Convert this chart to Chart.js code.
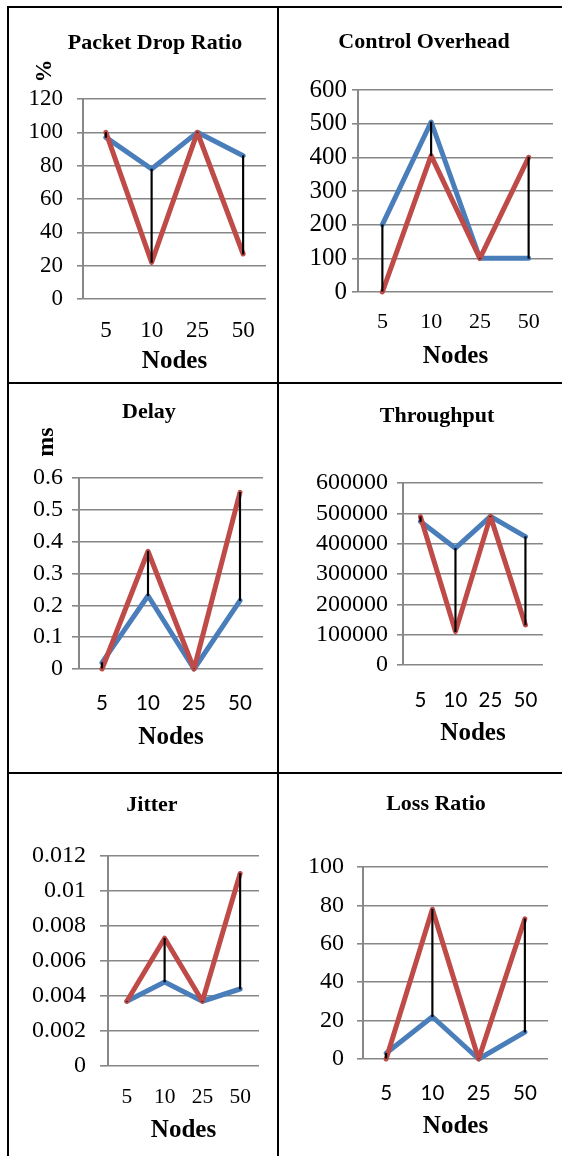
<!DOCTYPE html>
<html>
<head>
<meta charset="utf-8">
<script src="https://cdn.jsdelivr.net/npm/chart.js@4.4.0/dist/chart.umd.min.js"></script>
<style>
  html, body { margin: 0; padding: 0; background: #fff; }
  body { width: 562px; height: 1156px; position: relative; overflow: hidden; font-family: 'Liberation Serif', 'Times New Roman', serif; }
  .rule { position: absolute; background: #000; }
  canvas { position: absolute; }
  .ttl { position: absolute; width: 300px; text-align: center; font-weight: bold; font-size: 22px; line-height: 22px; white-space: nowrap; color: #000; }
  .unit { position: absolute; width: 40px; height: 40px; line-height: 40px; text-align: center; font-weight: bold; transform: rotate(-90deg); color: #000; }
</style>
</head>
<body>
<!-- table rules -->
<div class="rule" style="left:7px;top:6px;width:555px;height:2px"></div>
<div class="rule" style="left:7px;top:6px;width:2px;height:1150px"></div>
<div class="rule" style="left:277px;top:6px;width:2px;height:1150px"></div>
<div class="rule" style="left:7px;top:382px;width:555px;height:2px"></div>
<div class="rule" style="left:7px;top:772px;width:555px;height:2px"></div>

<canvas id="pdr" width="268" height="374" style="left:9px;top:8px"></canvas>
<canvas id="overhead" width="283" height="374" style="left:279px;top:8px"></canvas>
<canvas id="delay" width="268" height="388" style="left:9px;top:384px"></canvas>
<canvas id="throughput" width="283" height="388" style="left:279px;top:384px"></canvas>
<canvas id="jitter" width="268" height="382" style="left:9px;top:774px"></canvas>
<canvas id="loss" width="283" height="382" style="left:279px;top:774px"></canvas>

<div class="ttl" style="left:5px;top:31px">Packet Drop Ratio</div>
<div class="ttl" style="left:274px;top:30px">Control Overhead</div>
<div class="ttl" style="left:-1px;top:400px">Delay</div>
<div class="ttl" style="left:287px;top:404px">Throughput</div>
<div class="ttl" style="left:2px;top:793px">Jitter</div>
<div class="ttl" style="left:286px;top:792px">Loss Ratio</div>

<div class="unit" style="left:24px;top:51px;font-size:23px">%</div>
<div class="unit" style="left:25px;top:422px;font-size:24px">ms</div>

<script>
// x categories shared by all six charts
const nodes = ['5', '10', '25', '50'];

// Packet Drop Ratio (%)
const pdrBlue = [97, 78, 100, 86];
const pdrRed = [100, 22, 100, 27];
const pdrTicks = [0, 20, 40, 60, 80, 100, 120];

// Control Overhead
const ohBlue = [200, 505, 100, 100];
const ohRed = [0, 405, 100, 400];
const ohTicks = [0, 100, 200, 300, 400, 500, 600];

// Delay (ms)
const delayBlue = [0.02, 0.23, 0.0, 0.215];
const delayRed = [0.0, 0.37, 0.0, 0.555];
const delayTicks = [0, 0.1, 0.2, 0.3, 0.4, 0.5, 0.6];

// Throughput
const tputBlue = [473000, 385000, 490000, 423000];
const tputRed = [489000, 110000, 490000, 132000];
const tputTicks = [0, 100000, 200000, 300000, 400000, 500000, 600000];

// Jitter
const jitBlue = [0.0037, 0.0048, 0.0037, 0.0044];
const jitRed = [0.0037, 0.0073, 0.0037, 0.011];
const jitTicks = [0, 0.002, 0.004, 0.006, 0.008, 0.01, 0.012];

// Loss Ratio
const lossBlue = [3, 22, 0, 14];
const lossRed = [0, 78, 0, 73];
const lossTicks = [0, 20, 40, 60, 80, 100];

const BLUE = '#4A7EBB';
const RED = '#BE4B48';
const GRID = '#878787';
const SERIF = "'Liberation Serif', 'Times New Roman', serif";
const SANS = "Lato, 'Open Sans', sans-serif";

Chart.defaults.font.family = SERIF;

function makeChart(id, o) {
  const ctx = document.getElementById(id).getContext('2d');
  // black high-low lines joining the two series at each category
  const hiLo = o.blue.map((b, i) => [Math.min(b, o.red[i]), Math.max(b, o.red[i])]);
  const lineStyle = {
    borderWidth: 5,
    pointRadius: 0,
    tension: 0,
    fill: false,
    clip: false,
    borderJoinStyle: 'round',
    borderCapStyle: 'round'
  };

  return new Chart(ctx, {
    type: 'line',
    data: {
      labels: nodes,
      datasets: [
        { type: 'bar', data: hiLo, backgroundColor: '#000', barThickness: 1.5, order: 0 },
        Object.assign({ data: o.red, borderColor: RED, order: 1 }, lineStyle),
        Object.assign({ data: o.blue, borderColor: BLUE, order: 2 }, lineStyle)
      ]
    },
    options: {
      responsive: false,
      animation: false,
      layout: { padding: { left: 0, top: o.padTop, right: o.padRight, bottom: 0 } },
      plugins: {
        legend: { display: false },
        tooltip: { enabled: false },
        title: { display: false }
      },
      scales: {
        x: {
          offset: true,
          grid: { display: false, drawTicks: false },
          border: { display: false },
          ticks: {
            autoSkip: false,
            maxRotation: 0,
            padding: o.xPad,
            color: '#000',
            font: { family: o.xSans ? SANS : SERIF, size: o.xFont }
          },
          title: {
            display: true,
            text: 'Nodes',
            color: '#000',
            font: { family: SERIF, size: 25, weight: 'bold' },
            padding: { top: 0, bottom: o.titlePad }
          },
          afterFit: s => { s.height = o.xHeight; }
        },
        y: {
          min: o.ticks[0],
          max: o.ticks[o.ticks.length - 1],
          afterBuildTicks: s => { s.ticks = o.ticks.map(v => ({ value: v })); },
          grid: { color: GRID, lineWidth: 1.6, drawTicks: true, tickLength: o.tickLen, tickColor: GRID },
          border: { display: true, color: GRID, width: 2 },
          ticks: {
            autoSkip: false,
            padding: o.yPad,
            color: '#000',
            font: { family: SERIF, size: o.yFont },
            callback: v => String(v)
          },
          afterFit: s => { s.width = o.yWidth; }
        }
      }
    }
  });
}

makeChart('pdr', {
  blue: pdrBlue, red: pdrRed, ticks: pdrTicks,
  yWidth: 74, padRight: 11, padTop: 91, xHeight: 83, titlePad: 5,
  xPad: 17.7, xFont: 23, xSans: false, yFont: 23, yPad: 14, tickLen: 6
});

makeChart('overhead', {
  blue: ohBlue, red: ohRed, ticks: ohTicks,
  yWidth: 79, padRight: 9, padTop: 82, xHeight: 90, titlePad: 10.4,
  xPad: 17.3, xFont: 22, xSans: false, yFont: 25, yPad: 5, tickLen: 6
});

makeChart('delay', {
  blue: delayBlue, red: delayRed, ticks: delayTicks,
  yWidth: 70, padRight: 14, padTop: 94, xHeight: 103, titlePad: 19.4,
  xPad: 21.8, xFont: 20.5, xSans: true, yFont: 24, yPad: 9, tickLen: 7
});

makeChart('throughput', {
  blue: tputBlue, red: tputRed, ticks: tputTicks,
  yWidth: 124, padRight: 15, padTop: 99, xHeight: 107, titlePad: 23.7,
  xPad: 22.8, xFont: 20.5, xSans: true, yFont: 24, yPad: 9, tickLen: 6
});

makeChart('jitter', {
  blue: jitBlue, red: jitRed, ticks: jitTicks,
  yWidth: 99, padRight: 18, padTop: 82, xHeight: 90, titlePad: 10.1,
  xPad: 18.9, xFont: 21.5, xSans: false, yFont: 24, yPad: 14, tickLen: 8
});

makeChart('loss', {
  blue: lossBlue, red: lossRed, ticks: lossTicks,
  yWidth: 84, padRight: 14, padTop: 93, xHeight: 97, titlePad: 14.4,
  xPad: 22.5, xFont: 20.5, xSans: true, yFont: 24, yPad: 13, tickLen: 6
});
</script>
</body>
</html>
